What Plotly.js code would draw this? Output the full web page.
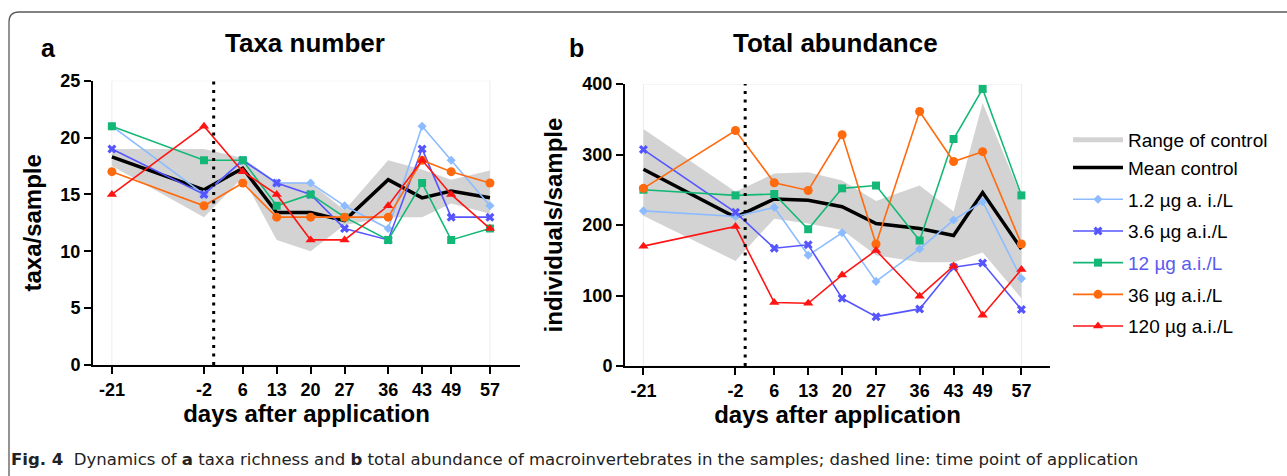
<!DOCTYPE html>
<html>
<head>
<meta charset="utf-8">
<script src="https://cdn.plot.ly/plotly-3.0.1.min.js"></script>
<style>html,body{margin:0;padding:0;background:#fff;}#chart{width:1287px;height:476px;}</style>
</head>
<body>
<div id="chart"></div>
<script>
// ---- data ----
const days = [-21, -2, 6, 13, 20, 27, 36, 43, 49, 57];
const dayLabels = ["-21", "-2", "6", "13", "20", "27", "36", "43", "49", "57"];

// a: taxa number (taxa/sample)
const taxaRangeLow  = [17.5, 13, 16.5, 11, 10, 12.3, 13, 13, 14.2, 13.3];
const taxaRangeHigh = [19, 19, 18.2, 16.1, 16, 13.6, 18, 17.2, 16.3, 17.1];
const taxaMean      = [18.3, 15.4, 17.3, 13.4, 13.4, 12.7, 16.3, 14.7, 15.3, 14.7];
const taxa1_2 = [21, 15, 18, 16, 16, 14, 12, 21, 18, 14];
const taxa3_6 = [19, 15, 18, 16, 15, 12, 11, 19, 13, 13];
const taxa12  = [21, 18, 18, 14, 15, 13, 11, 16, 11, 12];
const taxa36  = [17, 14, 16, 13, 13, 13, 13, 18, 17, 16];
const taxa120 = [15, 21, 17, 15, 11, 11, 14, 18, 15, 12];

// b: total abundance (individuals/sample)
const abRangeLow  = [213, 149, 209, 202, 193, 157, 147, 147, 161, 96];
const abRangeHigh = [336, 247, 273, 275, 263, 234, 256, 219, 373, 240];
const abMean      = [279, 211, 237, 235, 226, 202, 195, 185, 246, 166];
const ab1_2 = [220, 212, 225, 157, 189, 120, 166, 207, 233, 124];
const ab3_6 = [307, 218, 167, 172, 96, 70, 81, 140, 146, 80];
const ab12  = [250, 242, 244, 194, 252, 256, 178, 322, 393, 242];
const ab36  = [252, 334, 260, 249, 328, 173, 361, 290, 304, 173];
const ab120 = [170, 198, 90, 89, 129, 164, 99, 142, 72, 137];

const applicationDay = 0;

const seriesNames = ["1.2 µg a. i./L", "3.6 µg a.i./L", "<span style=\"color:#5a5af0\">12 µg a.i./L</span>", "36 µg a.i./L", "120 µg a.i./L"];
const seriesColors = ["#8cbcff", "#5555ff", "#14b876", "#ff6a0f", "#ff1414"];
const seriesSymbols = ["diamond", "x", "square", "circle", "triangle-up"];
const seriesSizes = [7, 8, 8, 9, 9];

// ---- traces ----
const traces = [];
function addPanel(xa, ya, low, high, mean, sets, showLeg) {
  traces.push({x: days, y: low, xaxis: xa, yaxis: ya, mode: 'lines', line: {width: 0, color: '#d3d3d3'},
    showlegend: false, hoverinfo: 'skip'});
  traces.push({x: days, y: high, xaxis: xa, yaxis: ya, mode: 'lines', line: {width: 0, color: '#d3d3d3'},
    fill: 'tonexty', fillcolor: '#d3d3d3', showlegend: false, hoverinfo: 'skip'});
  if (showLeg) {
    traces.push({x: [null], y: [null], xaxis: xa, yaxis: ya, mode: 'lines', name: 'Range of control',
      line: {width: 5, color: '#d3d3d3'}, legendgroup: 'ctrl'});
  }
  traces.push({x: days, y: mean, xaxis: xa, yaxis: ya, mode: 'lines', name: 'Mean control',
    line: {width: 3.5, color: '#000'}, legendgroup: 'ctrl', showlegend: showLeg});
  sets.forEach((s, i) => {
    traces.push({x: days, y: s, xaxis: xa, yaxis: ya, mode: 'lines+markers', name: seriesNames[i],
      line: {width: 1.6, color: seriesColors[i]},
      marker: {symbol: seriesSymbols[i], size: seriesSizes[i], color: seriesColors[i]},
      legendgroup: 'g' + i, showlegend: showLeg});
  });
}
addPanel('x', 'y', taxaRangeLow, taxaRangeHigh, taxaMean, [taxa1_2, taxa3_6, taxa12, taxa36, taxa120], true);
addPanel('x2', 'y2', abRangeLow, abRangeHigh, abMean, [ab1_2, ab3_6, ab12, ab36, ab120], false);

const tickFont = {family: 'Arial, Liberation Sans, sans-serif', size: 18, color: '#000', weight: 'bold'};
const titleFont = {family: 'Arial, Liberation Sans, sans-serif', size: 24, color: '#000', weight: 'bold'};
function xax(domain, range, anchor) {
  return {domain: domain, range: range, anchor: anchor, tickmode: 'array', tickvals: days, ticktext: dayLabels,
    ticks: 'outside', ticklen: 7, tickwidth: 2, tickcolor: '#000', showline: true, linewidth: 2, linecolor: '#000',
    showgrid: false, zeroline: false, tickfont: tickFont,
    title: {text: 'days after application', font: titleFont, standoff: 7}};
}
function yax(domain, range, dtick, anchor, title, standoff) {
  return {domain: domain, range: range, anchor: anchor, dtick: dtick, tick0: 0,
    ticks: 'outside', ticklen: 7, tickwidth: 2, tickcolor: '#000', showline: true, linewidth: 2, linecolor: '#000',
    showgrid: false, zeroline: false, tickfont: tickFont,
    title: {text: title, font: titleFont, standoff: standoff}};
}

const W = 1287, H = 476;
const layout = {
  width: W, height: H, margin: {l: 0, r: 0, t: 0, b: 0},
  paper_bgcolor: '#fff', plot_bgcolor: 'rgba(0,0,0,0)',
  font: {family: 'Arial, Liberation Sans, sans-serif', color: '#000'},
  xaxis: xax([93 / W, 520 / W], [-24.9, 63.2], 'y'),
  yaxis: yax([1 - 365 / H, 1 - 80.7 / H], [0, 25], 5, 'x', 'taxa/sample', 12),
  xaxis2: xax([625 / W, 1050 / W], [-24.8, 62.9], 'y2'),
  yaxis2: yax([1 - 366 / H, 1 - 84 / H], [0, 400], 100, 'x2', 'individuals/sample', 13),
  showlegend: true,
  legend: {x: 1068 / W, xanchor: 'left', y: 1 - 121 / H, yanchor: 'top', traceorder: 'grouped',
    tracegroupgap: 4, font: {size: 19, color: '#000', family: 'Arial, Liberation Sans, sans-serif'},
    bgcolor: 'rgba(0,0,0,0)', itemwidth: 50},
  shapes: [
    {type: 'rect', xref: 'x', yref: 'y', x0: days[0], x1: days[days.length - 1], y0: 0, y1: 25,
      line: {color: '#ececec', width: 1}, layer: 'below'},
    {type: 'rect', xref: 'x2', yref: 'y2', x0: days[0], x1: days[days.length - 1], y0: 0, y1: 400,
      line: {color: '#ececec', width: 1}, layer: 'below'},
    {type: 'line', xref: 'x', yref: 'y', x0: applicationDay, x1: applicationDay, y0: 0, y1: 25,
      line: {color: '#000', width: 3, dash: '3px,5.5px'}},
    {type: 'line', xref: 'x2', yref: 'y2', x0: applicationDay, x1: applicationDay, y0: 0, y1: 400,
      line: {color: '#000', width: 3, dash: '3px,5.5px'}},
    {type: 'path', xref: 'paper', yref: 'paper',
      path: 'M ' + (9 / W) + ',-0.05 L ' + (9 / W) + ',' + (1 - 22 / H) + ' Q ' + (9 / W) + ',' + (1 - 12 / H) + ' ' + (19 / W) + ',' + (1 - 12 / H) + ' L 1.05,' + (1 - 12 / H),
      line: {color: '#5a5a5a', width: 1.3}}
  ],
  annotations: [
    {xref: 'paper', yref: 'paper', x: 48 / W, y: 1 - 48 / H, xanchor: 'center', yanchor: 'middle', showarrow: false,
      text: '<b>a</b>', font: {size: 25, color: '#000'}},
    {xref: 'paper', yref: 'paper', x: 305 / W, y: 1 - 43 / H, xanchor: 'center', yanchor: 'middle', showarrow: false,
      text: '<b>Taxa number</b>', font: {size: 26, color: '#000'}},
    {xref: 'paper', yref: 'paper', x: 576 / W, y: 1 - 48 / H, xanchor: 'center', yanchor: 'middle', showarrow: false,
      text: '<b>b</b>', font: {size: 25, color: '#000'}},
    {xref: 'paper', yref: 'paper', x: 835 / W, y: 1 - 43 / H, xanchor: 'center', yanchor: 'middle', showarrow: false,
      text: '<b>Total abundance</b>', font: {size: 26, color: '#000'}},
    {xref: 'paper', yref: 'paper', x: 9 / W, y: 1 - 459 / H, xanchor: 'left', yanchor: 'middle', showarrow: false,
      text: '<b>Fig. 4</b>  Dynamics of <b>a</b> taxa richness and <b>b</b> total abundance of macroinvertebrates in the samples; dashed line: time point of application',
      font: {size: 16.55, color: '#222', family: 'DejaVu Sans, sans-serif'}}
  ]
};

Plotly.newPlot('chart', traces, layout, {staticPlot: true, displayModeBar: false});
</script>
</body>
</html>
